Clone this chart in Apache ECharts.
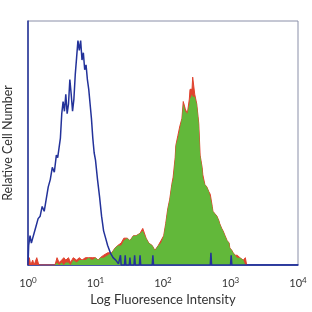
<!DOCTYPE html>
<html>
<head>
<meta charset="utf-8">
<script src="https://cdn.jsdelivr.net/npm/echarts@6/dist/echarts.min.js"></script>
<style>
  html, body { margin: 0; padding: 0; background: #fff; }
  #chart { width: 312px; height: 312px; }
</style>
</head>
<body>
<div id="chart"></div>
<script>
// unstained control (blue outline), log10 of intensity -> count
var blueLog = [0.00, 0.01, 0.03, 0.05, 0.07, 0.09, 0.12, 0.15, 0.18, 0.21, 0.24, 0.27, 0.30, 0.33, 0.36, 0.39, 0.42, 0.44, 0.46, 0.48,
  0.50, 0.52, 0.54, 0.56, 0.58, 0.60, 0.62, 0.64, 0.66, 0.68, 0.70, 0.72, 0.74, 0.76, 0.78, 0.80, 0.82, 0.84, 0.86, 0.88,
  0.90, 0.92, 0.94, 0.96, 0.98, 1.00, 1.03, 1.06, 1.09, 1.12, 1.15, 1.18, 1.22, 1.26, 1.30, 1.34,
  1.36, 1.37, 1.38, 1.43, 1.44, 1.45, 1.50, 1.51, 1.52, 1.57, 1.58, 1.59, 1.65, 1.66, 1.67, 1.84, 1.85, 1.86,
  2.70, 2.71, 2.72, 3.00, 3.01, 3.02, 4.00];
var blueCount = [0, 8, 12, 9, 11, 13, 16, 19, 20, 24, 22, 27, 32, 35, 40, 38, 45, 44, 48, 52,
  62, 67, 63, 70, 62, 66, 76, 70, 63, 68, 78, 85, 92, 88, 92, 84, 87, 80, 82, 76,
  72, 66, 60, 52, 46, 43, 35, 28, 20, 14, 11, 8, 5, 3, 2, 0.5,
  0, 4, 0, 0, 4, 0, 0, 3, 0, 0, 4, 0, 0, 4, 0, 0, 4, 0,
  0, 5, 0, 0, 4, 0, 0];

// stained sample: green fill with red outline
var sampleLog = [0.00, 0.02, 0.04, 0.07, 0.09, 0.13, 0.16, 0.40, 0.43, 0.46, 0.50, 0.53, 0.56, 0.60, 0.63, 0.67, 0.72, 0.76, 0.80, 0.85,
  0.90, 0.95, 1.00, 1.04, 1.07, 1.12, 1.18, 1.24, 1.29, 1.33, 1.38, 1.42, 1.47, 1.51, 1.56, 1.60, 1.66, 1.70, 1.75, 1.79,
  1.84, 1.88, 1.93, 1.97, 2.01, 2.04, 2.07, 2.10, 2.13, 2.15, 2.18, 2.19, 2.22, 2.25, 2.28, 2.30, 2.33, 2.36, 2.39, 2.40,
  2.43, 2.44, 2.47, 2.50, 2.53, 2.55, 2.58, 2.59, 2.62, 2.65, 2.68, 2.70, 2.73, 2.74, 2.77, 2.80, 2.83, 2.84, 2.87, 2.89,
  2.92, 2.95, 2.98, 2.99, 3.02, 3.04, 3.07, 3.10, 3.14, 3.19, 3.22, 3.24];
var greenCount = [0, 0, 0, 0, 0, 0, 0, 0, 1, 0, 1, 0, 1, 1, 0, 2, 1, 2, 2, 2,
  3, 2, 3, 2, 3, 3, 4, 5, 7, 8, 8, 10, 11, 10, 12, 12, 13, 14, 11, 9,
  8, 6, 8, 9, 12, 17, 23, 27, 33, 35, 44, 49, 52, 56, 60, 66, 63, 62, 66, 68,
  70, 69, 69, 66, 58, 45, 40, 36, 33, 32, 30, 28, 24, 22, 21, 20, 18, 17, 15, 14,
  12, 10, 9, 7, 6, 5, 4, 3, 3, 2, 0, 0];
var redCount = [0, 3, 0, 2, 0, 3, 0, 0, 3, 1, 2, 3, 2, 3, 1, 3, 2, 3, 2, 3,
  3, 3, 3, 2, 3, 4, 5, 5, 7, 8, 9, 11, 11, 10, 12, 12, 13, 15, 11, 9,
  8, 6, 8, 10, 12, 17, 23, 27, 33, 36, 44, 49, 53, 57, 60, 67, 64, 62, 68, 72,
  72, 77, 70, 66, 58, 45, 40, 37, 33, 32, 30, 29, 24, 22, 21, 20, 18, 17, 15, 14,
  12, 10, 9, 7, 6, 5, 4, 4, 3, 2, 3, 0];

var xTicks = [1, 10, 100, 1000, 10000];

function pairs(logs, counts) {
  return logs.map(function (l, i) { return [Math.pow(10, l), counts[i]]; });
}

var myChart = echarts.init(document.getElementById('chart'));
var option = {
  animation: false,
  grid: {
    left: 28, right: 14, top: 21, bottom: 47,
    containLabel: false,
    outerBoundsMode: 'none',
    show: true, borderColor: '#8a8fa8', borderWidth: 1
  },
  xAxis: {
    type: 'log',
    logBase: 10,
    min: xTicks[0],
    max: xTicks[xTicks.length - 1],
    name: 'Log Fluoresence Intensity',
    nameLocation: 'middle',
    nameGap: 18,
    nameTextStyle: { fontFamily: 'Lato', fontSize: 13, color: '#333' },
    axisLine: { show: true, lineStyle: { color: '#23329a', width: 1.5 } },
    axisTick: { show: false },
    splitLine: { show: false },
    axisLabel: {
      margin: 11,
      fontFamily: 'Lato',
      fontSize: 11,
      color: '#333',
      showMinLabel: true,
      showMaxLabel: true,
      formatter: function (v) {
        return '10{s|' + Math.round(Math.log10(v)) + '}';
      },
      rich: {
        s: { fontSize: 8, fontFamily: 'Lato', color: '#333', verticalAlign: 'top', padding: [0, 0, 6, 0] }
      }
    }
  },
  yAxis: {
    type: 'value',
    min: 0,
    max: 100,
    name: 'Relative Cell Number',
    nameLocation: 'middle',
    nameGap: 14,
    nameTextStyle: { fontFamily: 'Lato', fontSize: 12.5, color: '#333' },
    axisLine: { show: true, lineStyle: { color: '#23329a', width: 1.5 } },
    axisTick: { show: false },
    axisLabel: { show: false },
    splitLine: { show: false }
  },
  series: [
    {
      name: 'red',
      type: 'line',
      data: pairs(sampleLog, redCount),
      symbol: 'none',
      lineStyle: { color: '#e0432f', width: 1 },
      areaStyle: { color: '#e0432f', opacity: 1 },
      z: 2
    },
    {
      name: 'green',
      type: 'line',
      data: pairs(sampleLog, greenCount),
      symbol: 'none',
      lineStyle: { width: 0 },
      areaStyle: { color: '#62b83a', opacity: 1 },
      z: 3
    },
    {
      name: 'blue',
      type: 'line',
      data: pairs(blueLog, blueCount),
      symbol: 'none',
      lineStyle: { color: '#23329a', width: 1.5 },
      z: 4
    }
  ]
};
myChart.setOption(option);
</script>
</body>
</html>
